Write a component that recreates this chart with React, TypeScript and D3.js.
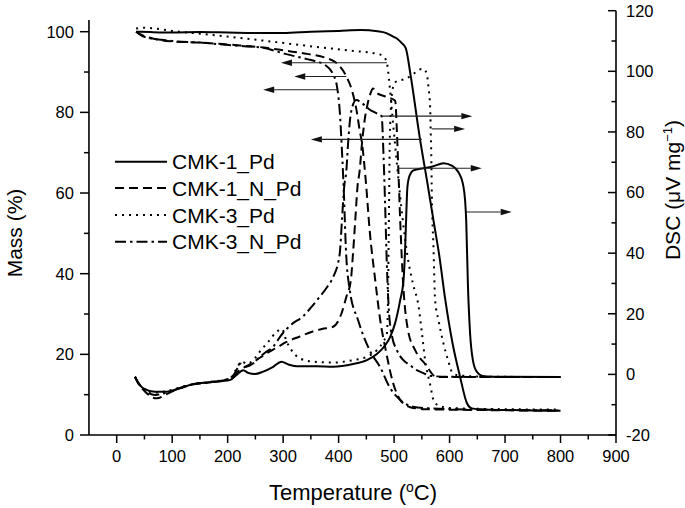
import React from "react";
import * as d3 from "d3";

type Pt = [number, number];

// ---- TGA (mass %, left axis): [temperature °C, mass %]
const tgaCmk1Pd: Pt[] = [[35,100.0],[60,99.9],[100,99.8],[150,99.9],[200,99.8],[250,99.7],[300,99.7],[350,100.0],[400,100.2],[440,100.4],[470,100.1],[485,99.7],[495,99.0],[505,98.3],[513,97.3],[521,95.9],[530,89.0],[546,74.0],[560,62.5],[571,53.2],[582,44.0],[592,33.8],[605,23.0],[619,14.4],[631,8.0],[640,6.6],[660,6.3],[700,6.2],[750,6.1],[800,6.0]];
const tgaCmk1NPd: Pt[] = [[35,100.0],[45,99.2],[60,98.5],[80,97.9],[100,97.6],[150,97.3],[185,97.0],[230,96.5],[264,96.1],[304,95.3],[343,94.5],[375,93.6],[398,92.0],[414,88.9],[425,85.0],[433,80.0],[438,75.5],[442,72.5],[449,63.0],[456,50.7],[466,38.4],[475,28.5],[485,21.0],[498,13.0],[511,8.7],[529,6.9],[556,6.4],[650,6.2],[800,6.0]];
const tgaCmk3Pd: Pt[] = [[35,100.8],[50,101.0],[80,100.6],[100,100.2],[150,99.5],[200,98.8],[264,97.8],[343,96.5],[422,95.3],[470,94.5],[480,94.0],[487,92.3],[491,87.9],[497,79.0],[506,66.0],[515,54.0],[524,44.5],[534,37.5],[544,32.0],[550,25.5],[556,18.5],[565,12.5],[571,8.7],[580,7.3],[600,6.7],[650,6.5],[800,6.3]];
const tgaCmk3NPd: Pt[] = [[35,100.0],[45,99.0],[60,98.4],[80,98.0],[100,97.7],[150,97.3],[185,96.9],[230,96.4],[264,96.0],[304,94.5],[343,93.2],[360,92.6],[375,91.8],[390,89.5],[398,85.6],[402,80.4],[406,70.5],[410,58.2],[413,46.5],[420,36.0],[435,28.5],[456,21.0],[475,16.8],[493,11.6],[511,8.7],[534,7.0],[565,6.6],[650,6.3],[800,6.1]];

// ---- DSC (µV/mg, right axis): [temperature °C, DSC]
const dscCmk1Pd: Pt[] = [[33,-0.8],[37,-2.2],[48,-4.6],[69,-5.7],[90,-5.7],[114,-4.6],[138,-3.2],[168,-2.6],[204,-1.9],[216,-0.2],[228,1.4],[237,0.5],[249,0.1],[264,0.9],[282,2.5],[297,4.2],[309,3.3],[324,2.7],[360,2.7],[390,2.5],[426,3.4],[451,4.7],[469,6.7],[484,9.6],[493,12.4],[502,17.0],[511,24.5],[517,31.0],[520,42.0],[522,53.0],[524,61.8],[528,65.6],[535,67.3],[553,68.0],[571,68.7],[589,69.7],[604,68.9],[616,66.7],[624,62.9],[628,57.4],[630,50.8],[633,30.0],[637,13.5],[642,4.7],[649,0.9],[661,-0.6],[700,-0.8],[800,-0.9]];
const dscCmk1NPd: Pt[] = [[33,-0.8],[37,-2.4],[50,-5.5],[72,-7.9],[90,-6.5],[114,-4.5],[138,-3.3],[168,-2.6],[204,-1.5],[222,1.5],[235,2.8],[250,4.5],[270,6.9],[290,9.0],[306,10.7],[330,12.5],[351,14.0],[370,15.0],[390,15.7],[405,20.0],[414,25.6],[422,31.0],[426,40.0],[430,50.8],[434,61.8],[438,67.3],[442,76.0],[447,84.0],[452,89.0],[458,93.0],[462,94.3],[468,93.0],[484,91.7],[502,90.3],[505,80.5],[507.6,68.0],[511,50.8],[516,31.0],[525,14.6],[538,8.0],[556,3.4],[577,-0.9],[800,-0.9]];
const dscCmk3Pd: Pt[] = [[33,-0.8],[37,-2.2],[48,-4.8],[69,-6.0],[90,-5.5],[114,-4.3],[138,-3.2],[168,-2.5],[204,-1.3],[215,1.5],[225,4.2],[235,3.5],[250,5.5],[260,8.0],[273,10.7],[288,14.0],[298,15.0],[306,11.0],[315,8.0],[330,5.3],[354,4.2],[390,3.9],[426,4.7],[451,5.8],[469,8.0],[480,10.7],[487,13.5],[489,24.5],[490,40.9],[491,57.0],[492,73.9],[494,87.0],[497,93.6],[502,96.4],[520,97.5],[535,99.1],[544,100.5],[553,100.8],[559,99.1],[562,94.7],[565,88.1],[566,80.5],[567,72.8],[568,59.6],[571,42.0],[574,24.5],[580,17.9],[589,10.2],[598,4.2],[604,0.9],[613,-0.2],[650,-0.7],[800,-0.9]];
const dscCmk3NPd: Pt[] = [[33,-0.8],[37,-2.2],[48,-4.8],[70,-6.8],[90,-6.0],[114,-4.5],[138,-3.3],[168,-2.6],[204,-1.4],[215,1.0],[222,3.6],[232,2.5],[245,3.5],[258,5.8],[270,7.5],[282,9.1],[296,12.8],[315,16.5],[335,19.0],[350,22.0],[366,25.6],[380,29.0],[390,32.0],[402,39.8],[406,50.8],[410,61.8],[414,67.3],[417,76.0],[420,83.0],[425,88.5],[432,90.5],[442,89.5],[455,87.5],[470,86.0],[477.5,85.2],[481,72.0],[484,55.0],[487,36.0],[491,20.0],[497,12.0],[505,8.0],[515,5.0],[529,3.0],[540,1.5],[552,0.5],[565,-0.5],[600,-0.8],[800,-0.9]];

// ---- arrows: [start T, value, end T]
const tgaArrows: [number, number, number][] = [[487,92.3,296],[414,88.9,320],[398,85.6,264],[550,73.3,350]];
const dscArrows: [number, number, number][] = [[477.5,85.2,641],[567.8,81.0,628],[507.6,68.0,658],[629.6,53.6,712]];

const seriesNames = ["CMK-1_Pd", "CMK-1_N_Pd", "CMK-3_Pd", "CMK-3_N_Pd"];
const tgaSeries = [tgaCmk1Pd, tgaCmk1NPd, tgaCmk3Pd, tgaCmk3NPd];
const dscSeries = [dscCmk1Pd, dscCmk1NPd, dscCmk3Pd, dscCmk3NPd];

const xTicks = [0, 100, 200, 300, 400, 500, 600, 700, 800, 900];
const xMinor = [50, 150, 250, 350, 450, 550, 650, 750, 850];
const leftTicks = [0, 20, 40, 60, 80, 100];
const leftMinor = [10, 30, 50, 70, 90];
const rightTicks = [-20, 0, 20, 40, 60, 80, 100, 120];
const rightMinor = [-10, 10, 30, 50, 70, 90, 110];

const dashes: Record<string, string> = {
  "CMK-1_Pd": "none",
  "CMK-1_N_Pd": "9,5",
  "CMK-3_Pd": "2,5",
  "CMK-3_N_Pd": "11,4,2.5,4",
};

const FONT = "'Liberation Sans', Arial, sans-serif";

export default function App() {
  const W = 685, H = 508;
  const x = d3.scaleLinear().domain([0, 900]).range([116.7, 616]);
  const yL = d3.scaleLinear().domain([0, 100]).range([435, 31.7]);
  const yR = d3.scaleLinear().domain([-20, 120]).range([435, 10.7]);
  const axL = x(-50);
  const axR = x(900);
  const axB = yL(0);
  const axLTop = yL(102.9);
  const axRTop = yR(120);

  const lineL = d3.line<Pt>().x(d => x(d[0])).y(d => yL(d[1])).curve(d3.curveMonotoneX);
  const lineR = d3.line<Pt>().x(d => x(d[0])).y(d => yR(d[1])).curve(d3.curveMonotoneX);

  const arrow = (x0: number, x1: number, y: number, key: string) => {
    const dir = x1 > x0 ? 1 : -1;
    const hl = 11, hw = 3.2;
    return (
      <g key={key}>
        <line x1={x0} y1={y} x2={x1 - dir * hl} y2={y} stroke="#222" strokeWidth={1.1} />
        <path d={`M${x1},${y}L${x1 - dir * hl},${y - hw}L${x1 - dir * hl},${y + hw}Z`} fill="#111" />
      </g>
    );
  };

  const legendRows = [161.7, 188, 215, 241.7];

  return (
    <svg width={W} height={H} style={{ position: "absolute", left: 0, top: 0, background: "#fff" }} fontFamily={FONT}>
      <rect width={W} height={H} fill="#fff" />
      {/* axes */}
      <line x1={axL} y1={axB} x2={axR} y2={axB} stroke="#000" strokeWidth={1.6} />
      <line x1={axL} y1={axB} x2={axL} y2={axLTop} stroke="#000" strokeWidth={1.6} />
      <line x1={axR} y1={axB} x2={axR} y2={axRTop} stroke="#000" strokeWidth={1.6} />
      {xTicks.map(t => (
        <g key={"xt" + t}>
          <line x1={x(t)} y1={axB} x2={x(t)} y2={axB + 8} stroke="#000" strokeWidth={1.5} />
          <text x={x(t)} y={461.5} fontSize={16.5} textAnchor="middle">{t}</text>
        </g>
      ))}
      {xMinor.map(t => (
        <line key={"xm" + t} x1={x(t)} y1={axB} x2={x(t)} y2={axB + 4.5} stroke="#000" strokeWidth={1.5} />
      ))}
      {leftTicks.map(t => (
        <g key={"lt" + t}>
          <line x1={axL} y1={yL(t)} x2={axL - 9} y2={yL(t)} stroke="#000" strokeWidth={1.5} />
          <text x={axL - 15} y={yL(t)} dy="0.36em" fontSize={16.5} textAnchor="end">{t}</text>
        </g>
      ))}
      {leftMinor.map(t => (
        <line key={"lm" + t} x1={axL} y1={yL(t)} x2={axL - 5} y2={yL(t)} stroke="#000" strokeWidth={1.5} />
      ))}
      {rightTicks.map(t => (
        <g key={"rt" + t}>
          <line x1={axR} y1={yR(t)} x2={axR - 8} y2={yR(t)} stroke="#000" strokeWidth={1.5} />
          <text x={axR + 10} y={yR(t)} dy="0.36em" fontSize={16.5} textAnchor="start">{t}</text>
        </g>
      ))}
      {rightMinor.map(t => (
        <line key={"rm" + t} x1={axR} y1={yR(t)} x2={axR - 4.5} y2={yR(t)} stroke="#000" strokeWidth={1.5} />
      ))}

      {/* curves */}
      {tgaSeries.map((s, i) => (
        <path key={"tga" + i} d={lineL(s) || ""} fill="none" stroke="#000" strokeWidth={2}
          strokeDasharray={dashes[seriesNames[i]]} />
      ))}
      {dscSeries.map((s, i) => (
        <path key={"dsc" + i} d={lineR(s) || ""} fill="none" stroke="#000" strokeWidth={2}
          strokeDasharray={dashes[seriesNames[i]]} />
      ))}

      {/* arrows */}
      {tgaArrows.map((a, i) => arrow(x(a[0]), x(a[2]), yL(a[1]), "ta" + i))}
      {dscArrows.map((a, i) => arrow(x(a[0]), x(a[2]), yR(a[1]), "da" + i))}

      {/* legend */}
      {seriesNames.map((n, i) => (
        <g key={"lg" + i}>
          <line x1={115} y1={legendRows[i]} x2={167} y2={legendRows[i]} stroke="#000" strokeWidth={2}
            strokeDasharray={dashes[n]} />
          <text x={172} y={legendRows[i]} dy="0.36em" fontSize={21}>{n}</text>
        </g>
      ))}

      {/* titles */}
      <text x={353} y={500} fontSize={22} textAnchor="middle">
        Temperature (<tspan dy={-8} fontSize={14}>o</tspan><tspan dy={8}>C)</tspan>
      </text>
      <text transform="translate(21.5,233) rotate(-90)" fontSize={21} textAnchor="middle">Mass (%)</text>
      <text transform="translate(680,190) rotate(-90)" fontSize={21} textAnchor="middle">
        DSC (μV mg<tspan dy={-8} fontSize={13}>−1</tspan><tspan dy={8}>)</tspan>
      </text>
    </svg>
  );
}
